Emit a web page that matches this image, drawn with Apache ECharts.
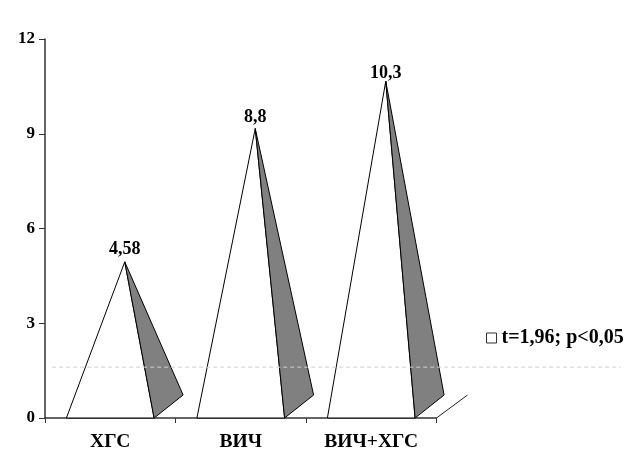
<!DOCTYPE html>
<html><head><meta charset="utf-8">
<style>html,body{margin:0;padding:0;background:#fff}#c{width:640px;height:470px}</style>
<script src="https://cdn.jsdelivr.net/npm/echarts@6/dist/echarts.min.js"></script>
</head><body><div id="c"></div>
<script>
const categories = ['ХГС', 'ВИЧ', 'ВИЧ+ХГС'];
const values = [4.58, 8.8, 10.3];
const valueLabels = ['4,58', '8,8', '10,3'];
const threshold = [1.61];
const legendName = 't=1,96; p<0,05';
const yTicks = { min: 0, max: 12, interval: 3 };

const FONT = '"Liberation Serif","Times New Roman",serif';
const DEPTH_X = 29, DEPTH_Y = 23;
const LABEL_GAP = [4, 2, -1];
const chart = echarts.init(document.getElementById('c'), null, { renderer: 'canvas' });

function pyramid(params, api) {
  const i = api.value(0), v = api.value(1);
  const band = api.size([1, 0])[0];
  const base = api.coord([i, 0]);
  const top = api.coord([i, v]);
  const half = band * 0.336;
  const apex = [base[0] + DEPTH_X / 2, top[1] - DEPTH_Y / 2];
  const fl = [base[0] - half, base[1]];
  const fr = [base[0] + half, base[1]];
  const br = [fr[0] + DEPTH_X, fr[1] - DEPTH_Y];
  return { type: 'group', children: [
    { type: 'polygon', shape: { points: [fl, fr, apex] },
      style: { fill: '#fff', stroke: '#000', lineWidth: 1 } },
    { type: 'polygon', shape: { points: [fr, br, apex] },
      style: { fill: '#808080', stroke: '#000', lineWidth: 1 } },
    { type: 'text', style: { x: apex[0], y: apex[1] - LABEL_GAP[i], text: valueLabels[i],
      font: 'bold 18px ' + FONT, fill: '#000', align: 'center', verticalAlign: 'bottom' } }
  ] };
}

function dashed(params, api) {
  const band = api.size([1, 0])[0];
  const p = api.coord([0, api.value(0)]);
  return { type: 'line', silent: true,
    shape: { x1: p[0] - band * 0.445, y1: p[1], x2: p[0] + band * 3.91, y2: p[1] },
    style: { stroke: '#cfcfcf', lineWidth: 1, lineDash: [4, 3] } };
}

function floorEdge(params, api) {
  const band = api.size([1, 0])[0];
  const p = api.coord([categories.length - 1, 0]);
  const x = p[0] + band / 2;
  return { type: 'line', shape: { x1: x, y1: p[1], x2: x + DEPTH_X + 2, y2: p[1] - DEPTH_Y },
    style: { stroke: '#222', lineWidth: 1 } };
}

chart.setOption({
  animation: false,
  backgroundColor: '#fff',
  grid: { left: 45, right: 203.5, top: 39, bottom: 52, containLabel: false },
  legend: {
    left: 481, top: 323, icon: 'rect', itemWidth: 10, itemHeight: 10, itemGap: 8,
    data: [{ name: legendName, itemStyle: { color: '#fff', borderColor: '#333', borderWidth: 1 } }],
    textStyle: { fontFamily: FONT, fontWeight: 'bold', fontSize: 20, color: '#000' },
    selectedMode: false
  },
  xAxis: {
    type: 'category', data: categories, boundaryGap: true,
    axisLine: { show: true, lineStyle: { color: '#333', width: 1.5 } },
    axisTick: { show: true, alignWithLabel: false, length: 5, lineStyle: { color: '#333' } },
    axisLabel: { fontFamily: FONT, fontWeight: 'bold', fontSize: 19.5, color: '#000', margin: 14, interval: 0 },
    splitLine: { show: false }
  },
  yAxis: {
    type: 'value', min: yTicks.min, max: yTicks.max, interval: yTicks.interval,
    axisLine: { show: true, lineStyle: { color: '#333', width: 1.5 } },
    axisTick: { show: true, length: 6, lineStyle: { color: '#333' } },
    axisLabel: { fontFamily: FONT, fontWeight: 'bold', fontSize: 17, color: '#000', margin: 10, padding: [6, 0, 0, 0] },
    splitLine: { show: false }
  },
  series: [
    { type: 'custom', name: 'pyramids', coordinateSystem: 'cartesian2d', clip: false, z: 3,
      renderItem: pyramid, data: values.map((v, i) => [i, v]), encode: { x: 0, y: 1 } },
    { type: 'custom', name: 'floor', coordinateSystem: 'cartesian2d', clip: false, z: 2,
      renderItem: floorEdge, data: [[0]], encode: { y: 0 } },
    { type: 'custom', name: legendName, coordinateSystem: 'cartesian2d', clip: false, z: 4,
      renderItem: dashed, data: threshold.map(v => [v]), encode: { y: 0 } }
  ]
});
</script></body></html>
